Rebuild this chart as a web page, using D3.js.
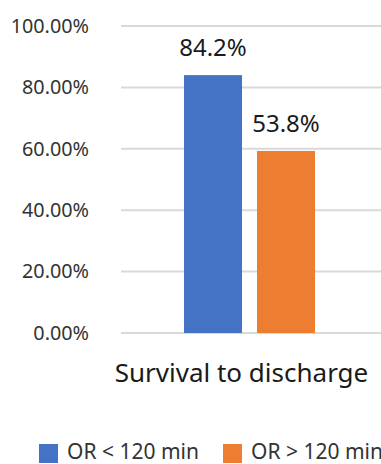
<!DOCTYPE html>
<html>
<head>
<meta charset="utf-8">
<script src="https://cdn.jsdelivr.net/npm/d3@7"></script>
<style>
html,body{margin:0;padding:0;background:#fff;}
svg{display:block;}
</style>
</head>
<body>
<svg id="chart" width="381" height="464"></svg>
<script>
const categories = ["Survival to discharge"];
const seriesNames = ["OR < 120 min", "OR > 120 min"];
const seriesColors = ["#4472C4", "#ED7D31"];
const barValues = [0.840, 0.593];        // bar heights as drawn
const barLabels = ["84.2%", "53.8%"];    // data labels as printed
const yTicks = [0, 0.2, 0.4, 0.6, 0.8, 1.0];

const svg = d3.select("#chart");
const font = "'Noto Sans', sans-serif";

const y = d3.scaleLinear().domain([0, 1]).range([333, 26]);
const x0 = d3.scaleBand().domain(categories).range([121, 378]).paddingInner(0).paddingOuter(0.481);
const x1 = d3.scaleBand().domain(seriesNames).range([0, x0.bandwidth()]).paddingInner(0.2055).paddingOuter(0);

// gridlines
svg.append("g").selectAll("line").data(yTicks).join("line")
  .attr("x1", 121).attr("x2", 381)
  .attr("y1", d => y(d)).attr("y2", d => y(d))
  .attr("stroke", "#d9d9d9").attr("stroke-width", 2);

// y axis labels
const yAxis = d3.axisLeft(y).tickValues(yTicks).tickFormat(d => (d * 100).toFixed(2) + "%").tickSize(0).tickPadding(0);
const ya = svg.append("g").attr("transform", "translate(89,0)").call(yAxis);
ya.select(".domain").remove();
ya.selectAll("text").attr("font-family", font).attr("font-size", 19.8).attr("fill", "#333333");

// bars
const g = svg.append("g").attr("transform", `translate(${x0(categories[0])},0)`);
g.selectAll("rect").data(seriesNames).join("rect")
  .attr("x", d => x1(d)).attr("width", x1.bandwidth())
  .attr("y", (d, i) => y(barValues[i]))
  .attr("height", (d, i) => y(0) - y(barValues[i]))
  .attr("fill", (d, i) => seriesColors[i]);

// data labels
g.selectAll("text.lbl").data(seriesNames).join("text").attr("class", "lbl")
  .attr("x", d => x1(d) + x1.bandwidth() / 2)
  .attr("y", (d, i) => y(barValues[i]) - 19)
  .attr("text-anchor", "middle")
  .attr("font-family", font).attr("font-size", 24)
  .attr("fill", "#1a1a1a")
  .text((d, i) => barLabels[i]);

// category axis label
const xAxis = d3.axisBottom(x0).tickSize(0).tickPadding(0);
const xa = svg.append("g").attr("transform", "translate(0,333)").call(xAxis);
xa.select(".domain").remove();
xa.selectAll("text").attr("dy", 0).attr("y", 49).attr("dx", -8)
  .attr("font-family", font).attr("font-size", 26).attr("fill", "#1a1a1a");

// legend
const legendX = [39, 223];
const lg = svg.append("g");
seriesNames.forEach((s, i) => {
  lg.append("rect").attr("x", legendX[i]).attr("y", 444).attr("width", 19).attr("height", 19).attr("fill", seriesColors[i]);
  lg.append("text").attr("x", legendX[i] + 28).attr("y", 459)
    .attr("font-family", font).attr("font-size", 21).attr("fill", "#333333").text(s);
});
</script>
</body>
</html>
